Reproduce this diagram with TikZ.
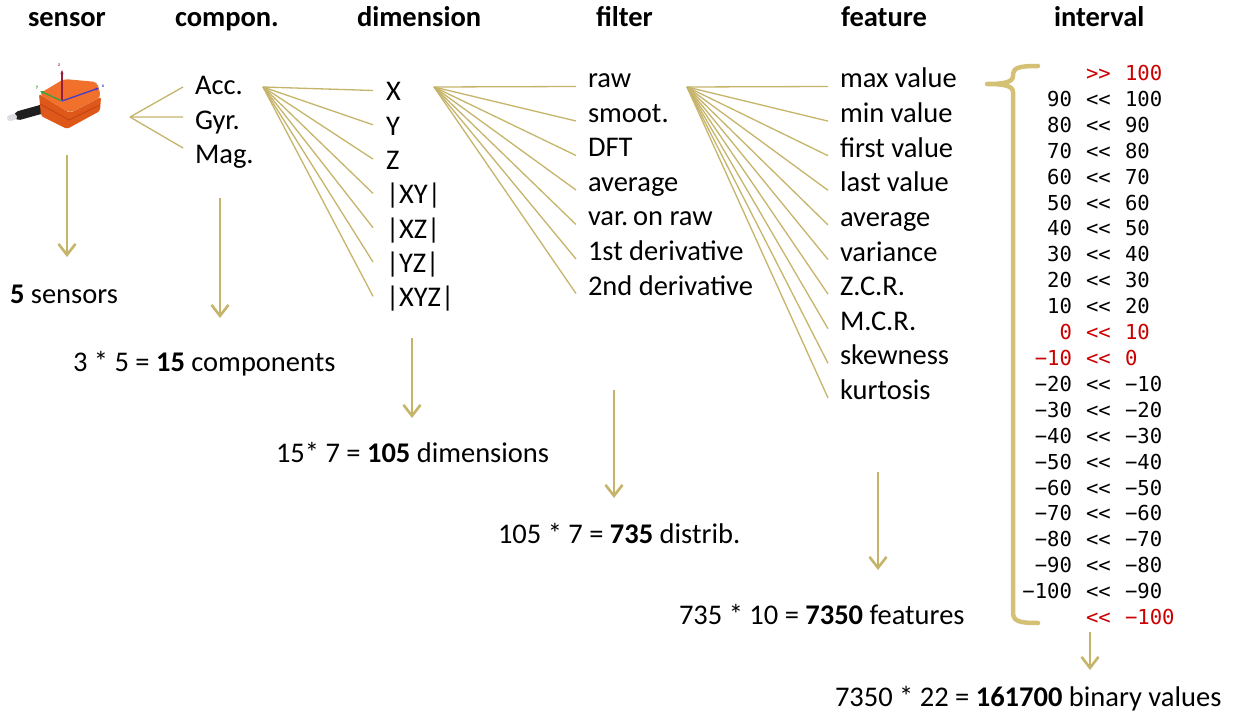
\documentclass[tikz,border=0pt]{standalone}
\usepackage{fontspec}
\setmainfont{Carlito}
\newfontfamily\monofont{DejaVu Sans Mono}
\usetikzlibrary{arrows.meta,calc}

\definecolor{gold}{RGB}{198,180,106}
\definecolor{bracegold}{RGB}{212,193,118}
\definecolor{intred}{RGB}{204,0,0}
\definecolor{boxtop}{RGB}{240,112,44}
\definecolor{boxside}{RGB}{222,88,26}
\definecolor{boxrim}{RGB}{196,70,20}
\definecolor{axz}{RGB}{150,30,60}
\definecolor{axy}{RGB}{60,160,60}
\definecolor{axx}{RGB}{70,60,200}

% double angle signs, kept apart so no ligature forms
\newcommand\dblless{<\kern0pt<}
\newcommand\dblmore{>\kern0pt>}

\begin{document}
\begin{tikzpicture}[x=1bp,y=-1bp,
  every node/.style={inner sep=0pt, outer sep=0pt},
  head/.style={anchor=base west, font=\fontsize{28.5bp}{34bp}\selectfont\bfseries},
  item/.style={anchor=base west, font=\fontsize{28.5bp}{34bp}\selectfont,
    text height=19bp, text depth=6bp},
  result/.style={anchor=base west, font=\fontsize{28.5bp}{34bp}\selectfont},
  ival/.style={font=\fontsize{20.6bp}{24bp}\monofont},
  fan/.style={draw=gold, line width=1.3bp},
  downarrow/.style={draw=gold, line width=2.6bp,
    -{Straight Barb[length=11bp, width=17bp]}},
  bracket/.style={draw=bracegold, line width=4.5bp, line cap=round, line join=round}]

\useasboundingbox[fill=white] (0,0) rectangle (1241,715);

% ---------- column headers ----------
\node[head] (hsensor) at (28,27) {sensor};
\node[head] (hcomp)   at (175,27) {compon.};
\node[head] (hdim)    at (357,27) {dimension};
\node[head] (hfilt)   at (596,27) {filter};
\node[head] (hfeat)   at (841,27) {feature};
\node[head] (hint)    at (1054,27) {interval};

% ---------- sensor icon ----------
\begin{scope}
  % cable
  \draw[line width=9bp, line cap=round, black!88] (46,108) -- (19,115.5);
  \draw[line width=6bp, line cap=round, blue!8!gray!25] (14,117) -- (10,118);
  % housing
  \fill[boxside, rounded corners=2bp] (39,94) -- (70,113) -- (101,97) -- (100,111) -- (67,129) -- (41,116) -- cycle;
  \draw[boxrim, line width=1bp] (40,104) -- (69,120) -- (100,105);
  \fill[boxtop, rounded corners=4bp] (39,94) -- (64,79) -- (97,82) -- (101,97) -- (70,113) -- cycle;
  % axes
  \draw[axz, line width=1.3bp, -{Stealth[length=4bp, width=3bp]}] (62,101) -- (62,70);
  \draw[axy, line width=1.3bp, -{Stealth[length=4bp, width=3bp]}] (62,101) -- (40,91);
  \draw[axx, line width=1.3bp, -{Stealth[length=4bp, width=3bp]}] (62,101) -- (99,88);
  \node[font=\fontsize{5bp}{6bp}\selectfont\bfseries, text=axz] (lz) at (59,65) {z};
  \node[font=\fontsize{5bp}{6bp}\selectfont\bfseries, text=axy] (ly) at (37,88) {y};
  \node[font=\fontsize{5bp}{6bp}\selectfont\bfseries, text=axx] (lx) at (103,86) {x};
\end{scope}

% ---------- components ----------
\node[item] (c1) at (195,95)  {Acc.};
\node[item] (c2) at (195,130) {Gyr.};
\node[item] (c3) at (195,164) {Mag.};

% ---------- dimensions ----------
\foreach \t [count=\i from 0] in {X,Y,Z,|XY|,|XZ|,|YZ|,|XYZ|}
  \node[item] (d\i) at (386,101+34.3*\i) {\t};

% ---------- filters ----------
\foreach \t [count=\i from 0] in {raw,smoot.,DFT,average,var.\,on raw,1st derivative,2nd derivative}
  \node[item] (f\i) at (588,88+34.5*\i) {\t};

% ---------- features ----------
\foreach \t [count=\i from 0] in {max value,min value,first value,last value,average,variance,Z.C.R.,M.C.R.,skewness,kurtosis}
  \node[item] (e\i) at (840,88+34.6*\i) {\t};

% ---------- fan connectors ----------
\coordinate (sfan) at (130,117);
\coordinate (cfan) at (263,87);
\coordinate (dfan) at (434,87);
\coordinate (ffan) at (687,87);

\foreach \i/\dy in {1/1.5,2/6.5,3/9.5}
  \draw[fan] (sfan) -- ([xshift=-12bp, yshift=\dy bp]c\i.west);
\foreach \i in {0,...,6}
  \draw[fan] (cfan) -- ([xshift=-13bp, yshift=4bp]d\i.west);
\foreach \i in {0,...,6}
  \draw[fan] (dfan) -- ([xshift=-12bp, yshift=-5bp]f\i.west);
\foreach \i in {0,...,9}
  \draw[fan] (ffan) -- ([xshift=-12bp, yshift=-5bp]e\i.west);

% ---------- intervals ----------
\foreach \lo/\op/\hi/\col [count=\i from 0] in {
   /\dblmore/100/intred,
   90/\dblless/100/black,
   80/\dblless/90/black,
   70/\dblless/80/black,
   60/\dblless/70/black,
   50/\dblless/60/black,
   40/\dblless/50/black,
   30/\dblless/40/black,
   20/\dblless/30/black,
   10/\dblless/20/black,
   0/\dblless/10/intred,
   −10/\dblless/0/intred,
   −20/\dblless/−10/black,
   −30/\dblless/−20/black,
   −40/\dblless/−30/black,
   −50/\dblless/−40/black,
   −60/\dblless/−50/black,
   −70/\dblless/−60/black,
   −80/\dblless/−70/black,
   −90/\dblless/−80/black,
   −100/\dblless/−90/black,
   /\dblless/−100/intred}
{
  \node[ival, anchor=base east, text=\col] (ilo\i) at (1072,80.6+25.9*\i) {\lo};
  \node[ival, anchor=base west, text=\col] (iop\i) at (1086,80.6+25.9*\i) {\op};
  \node[ival, anchor=base west, text=\col] (ihi\i) at (1125,80.6+25.9*\i) {\hi};
}

% bracket gathering the intervals
\draw[bracket] (1038,66) .. controls (1017,66) and (1013,68) .. (1013,76)
  .. controls (1013,83) and (1001,84) .. (987,84)
  .. controls (1001,84) and (1013,85) .. (1013,92)
  -- (1013,612) .. controls (1013,621) and (1018,623) .. (1038,623);

% ---------- totals ----------
\node[result] (r1) at (10,303)  {\textbf{5} sensors};
\node[result] (r2) at (73,371)  {3 * 5 = \textbf{15} components};
\node[result] (r3) at (276,462) {15* 7 = \textbf{105} dimensions};
\node[result] (r4) at (498,543) {105 * 7 = \textbf{735} distrib.};
\node[result] (r5) at (679,624) {735 * 10 = \textbf{7350} features};
\node[result] (r6) at (835,706) {7350 * 22 = \textbf{161700} binary values};

% ---------- downward arrows ----------
\coordinate (a1s) at (67,155);   \coordinate (a1e) at (67,257);
\coordinate (a2s) at (220,198);  \coordinate (a2e) at (220,318);
\coordinate (a3s) at (412,338);  \coordinate (a3e) at (412,418);
\coordinate (a4s) at (614,390);  \coordinate (a4e) at (614,498);
\coordinate (a5s) at (878,472);  \coordinate (a5e) at (878,570);
\coordinate (a6s) at (1090,632); \coordinate (a6e) at (1090,670);
\foreach \k in {1,...,6}
  \draw[downarrow] (a\k s) -- (a\k e);

\end{tikzpicture}
\end{document}
